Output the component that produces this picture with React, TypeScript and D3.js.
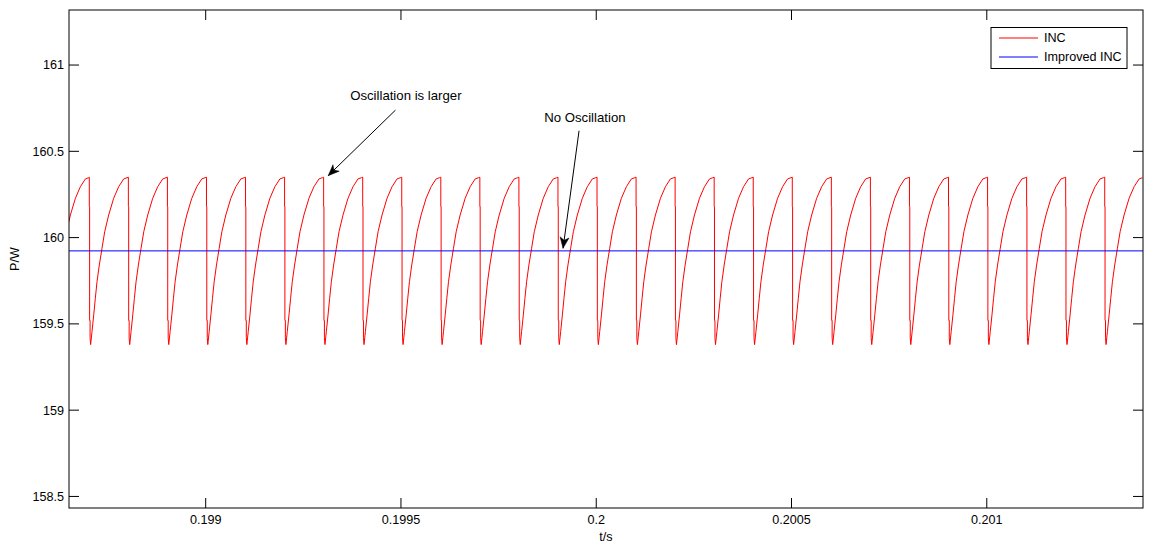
import React from "react";
import * as d3 from "d3";

// ---- data ----
// times (s) at which the INC power drops (one per switching period)
const incDropTimes = [
  0.198604, 0.198702, 0.198802, 0.198902, 0.199002, 0.199102, 0.199202, 0.199302,
  0.199402, 0.199502, 0.199602, 0.199702, 0.199802, 0.199902, 0.200002, 0.200102,
  0.200202, 0.200302, 0.200402, 0.200502, 0.200602, 0.200702, 0.200802, 0.200902,
  0.201002, 0.201102, 0.201202, 0.201302,
];
// one period of the INC waveform: offset after drop (µs) and power (W)
const incCycleOffsetsUs = [0, 0, 0.8, 0.8, 2.0, 2.0, 3.4, 6.9, 11.3, 15.4, 19.7, 25.6, 32.5, 39.4, 49.6, 62.4, 75.2, 88.0, 96.5];
const incCycleValues = [160.35, 160.18, 160.18, 159.52, 159.52, 159.42, 159.38, 159.455, 159.552, 159.648, 159.744, 159.841, 159.938, 160.034, 160.131, 160.228, 160.295, 160.34, 160.347];

const improvedTimes = [0.19865, 0.2014];
const improvedValues = [159.923, 159.923];

const xTicks = [0.199, 0.1995, 0.2, 0.2005, 0.201];
const xTickLabels = ["0.199", "0.1995", "0.2", "0.2005", "0.201"];
const yTicks = [158.5, 159, 159.5, 160, 160.5, 161];
const yTickLabels = ["158.5", "159", "159.5", "160", "160.5", "161"];

const xDomain = [0.19865, 0.2014];
const yDomain = [158.433, 161.319];

const legendLabels = ["INC", "Improved INC"];
const annotationTexts = ["Oscillation is larger", "No Oscillation"];
// [textT, textV, tailT, tailV, headT, headV]
const annotationPos = [
  [0.1995125, 160.797, 0.199486, 160.739, 0.1993137, 160.359],
  [0.199971, 160.67, 0.199956, 160.619, 0.199915, 159.938],
];

const W = 1154;
const H = 545;
const M = { left: 69, top: 10, right: 1143, bottom: 508 };
const FONT = "'Liberation Sans', Arial, Helvetica, sans-serif";

export default function App() {
  const x = d3.scaleLinear().domain(xDomain).range([M.left, M.right]);
  const y = d3.scaleLinear().domain(yDomain).range([M.bottom, M.top]);

  const incPts: [number, number][] = [];
  incDropTimes.forEach((d) => {
    incCycleOffsetsUs.forEach((o, i) => {
      incPts.push([d + o * 1e-6, incCycleValues[i]]);
    });
  });
  const improvedPts: [number, number][] = improvedTimes.map((t, i) => [t, improvedValues[i]]);

  const line = d3
    .line<[number, number]>()
    .x((p) => x(p[0]))
    .y((p) => y(p[1]));

  const tickLen = 10;

  const arrowHead = (x1: number, y1: number, x2: number, y2: number) => {
    const ang = Math.atan2(y2 - y1, x2 - x1);
    const L = 11;
    const Wd = 4.5;
    const back = 8;
    const ux = Math.cos(ang), uy = Math.sin(ang);
    const px = -uy, py = ux;
    const bx = x2 - ux * L, by = y2 - uy * L;
    const nx = x2 - ux * back, ny = y2 - uy * back;
    return `M${x2},${y2}L${bx + px * Wd},${by + py * Wd}L${nx},${ny}L${bx - px * Wd},${by - py * Wd}Z`;
  };

  return (
    <svg
      width={W}
      height={H}
      style={{ position: "absolute", left: 0, top: 0, background: "#fff" }}
      fontFamily={FONT}
    >
      <rect x={0} y={0} width={W} height={H} fill="#fff" />
      <defs>
        <clipPath id="plotclip">
          <rect x={M.left} y={M.top} width={M.right - M.left} height={M.bottom - M.top} />
        </clipPath>
      </defs>

      <g clipPath="url(#plotclip)">
        <path d={line(incPts) || ""} fill="none" stroke="#ff0000" strokeWidth={1} />
        <path d={line(improvedPts) || ""} fill="none" stroke="#0000ff" strokeWidth={1} />
      </g>

      {/* frame */}
      <rect
        x={M.left}
        y={M.top}
        width={M.right - M.left}
        height={M.bottom - M.top}
        fill="none"
        stroke="#000"
        strokeWidth={1}
      />

      {/* y ticks */}
      {yTicks.map((v, i) => (
        <g key={"y" + i}>
          <line x1={M.left} x2={M.left + tickLen} y1={y(v)} y2={y(v)} stroke="#000" strokeWidth={1} />
          <line x1={M.right} x2={M.right - tickLen} y1={y(v)} y2={y(v)} stroke="#000" strokeWidth={1} />
          <text x={M.left - 5} y={y(v)} dy="0.35em" textAnchor="end" fontSize={12.6} fill="#000">
            {yTickLabels[i]}
          </text>
        </g>
      ))}

      {/* x ticks */}
      {xTicks.map((t, i) => (
        <g key={"x" + i}>
          <line x1={x(t)} x2={x(t)} y1={M.bottom} y2={M.bottom - tickLen} stroke="#000" strokeWidth={1} />
          <line x1={x(t)} x2={x(t)} y1={M.top} y2={M.top + tickLen} stroke="#000" strokeWidth={1} />
          <text x={x(t)} y={M.bottom + 16} textAnchor="middle" fontSize={12.6} fill="#000">
            {xTickLabels[i]}
          </text>
        </g>
      ))}

      {/* axis labels */}
      <text x={(M.left + M.right) / 2} y={541} textAnchor="middle" fontSize={12.6} fill="#000">
        t/s
      </text>
      <text
        transform={`translate(19,${(M.top + M.bottom) / 2}) rotate(-90)`}
        textAnchor="middle"
        fontSize={12.6}
        fill="#000"
      >
        P/W
      </text>

      {/* annotations */}
      {annotationPos.map((a, i) => {
        const x1 = x(a[2]), y1 = y(a[3]), x2 = x(a[4]), y2 = y(a[5]);
        return (
          <g key={"a" + i}>
            <text x={x(a[0])} y={y(a[1])} textAnchor="middle" fontSize={13.2} fill="#000">
              {annotationTexts[i]}
            </text>
            <line x1={x1} y1={y1} x2={x2} y2={y2} stroke="#000" strokeWidth={1} />
            <path d={arrowHead(x1, y1, x2, y2)} fill="#000" stroke="#000" strokeWidth={0.5} />
          </g>
        );
      })}

      {/* legend */}
      <g>
        <rect x={991} y={27.5} width={136} height={41} fill="#fff" stroke="#000" strokeWidth={1} />
        {legendLabels.map((lab, i) => (
          <g key={"l" + i}>
            <line
              x1={999}
              x2={1038}
              y1={38 + i * 19}
              y2={38 + i * 19}
              stroke={i === 0 ? "#ff0000" : "#0000ff"}
              strokeWidth={1}
            />
            <text x={1044} y={38 + i * 19} dy="0.35em" fontSize={12.6} fill="#000">
              {lab}
            </text>
          </g>
        ))}
      </g>
    </svg>
  );
}
